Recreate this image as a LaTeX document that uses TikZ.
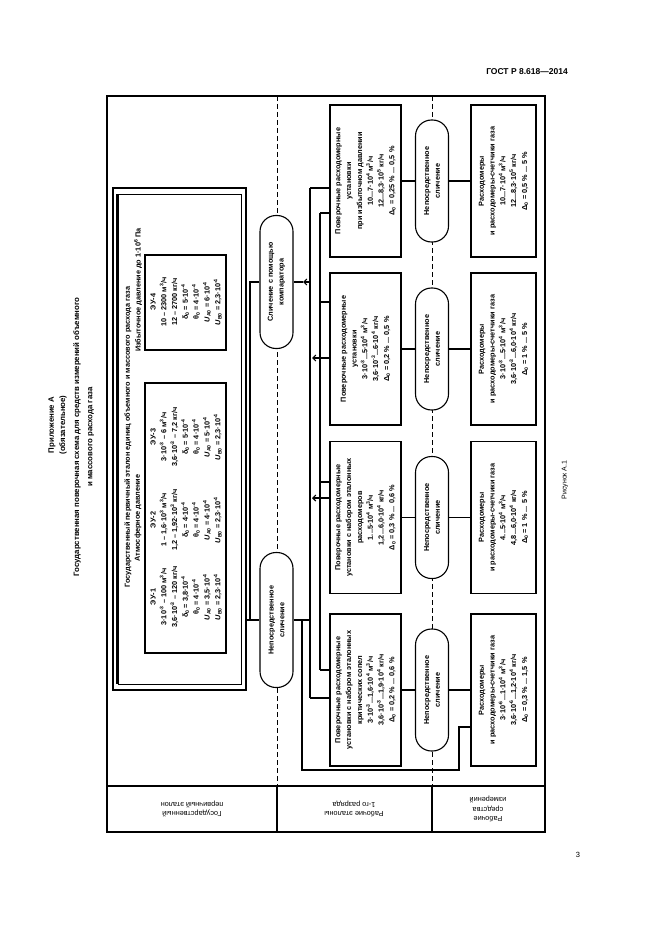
\documentclass[tikz,border=0pt]{standalone}
\usepackage{fontspec}
\setmainfont{Liberation Sans}
\usetikzlibrary{arrows.meta}
\begin{document}
\begin{tikzpicture}[x=1pt,y=-1pt,
  txt/.style={font=\fontsize{7.3}{10.8}\selectfont\bfseries,align=center,inner sep=0pt},
  rbox/.style={draw,line width=1.1pt,rotate=90,minimum width=152pt,minimum height=71pt,inner sep=0pt,txt},
  wbox/.style={draw,line width=1.1pt,rotate=90,minimum width=152pt,minimum height=65pt,inner sep=0pt,txt},
  oval/.style={draw,line width=1.1pt,fill=white,rounded corners=16pt,rotate=90,minimum height=33pt,txt},
  ttl/.style={rotate=90,font=\fontsize{7.8}{9}\selectfont\bfseries},
  ln/.style={line width=1.1pt},
  dsh/.style={line width=0.9pt,dash pattern=on 5pt off 3pt},
  tip/.style={line width=1.1pt,-{Straight Barb[length=3pt,width=6pt]}}]
\useasboundingbox (0,0) rectangle (661,936);
% header
\node[font=\fontsize{8.5}{10}\selectfont\bfseries] (hdr) at (527,72) {ГОСТ Р 8.618—2014};
\node[font=\fontsize{7.5}{9}\selectfont] (pg) at (578,855) {3};
\node[rotate=90,font=\fontsize{7}{8}\selectfont] (fig) at (565,480) {Рисунок А.1};
\node[ttl] (t1) at (52,425) {Приложение А};
\node[ttl] (t2) at (63,425) {(обязательное)};
\node[ttl] (t3) at (77,437) {Государственная поверочная схема для средств измерений объемного};
\node[ttl] (t4) at (91,437) {и массового расхода газа};
% frame
\draw[line width=1.3pt] (107,96) rectangle (545,832);
\draw[line width=1.3pt] (107,786) -- (545,786);
\draw[ln] (277,786) -- (277,832);
\draw[ln] (432,786) -- (432,832);
\draw[dsh] (277,96) -- (277,786);
\draw[dsh] (432,96) -- (432,786);
\node[rotate=180,txt,font=\fontsize{7.3}{9.5}\selectfont] (l1) at (192,809) {Государственный\\первичный эталон};
\node[rotate=180,txt,font=\fontsize{7.3}{9.5}\selectfont] (l2) at (354,809) {Рабочие эталоны\\1-го разряда};
\node[rotate=180,txt,font=\fontsize{7.3}{9.5}\selectfont] (l3) at (488,809) {Рабочие\\средства\\измерений};
% state primary standard
\draw[line width=1.2pt] (113,188) rectangle (246,690);
\draw[line width=0.9pt] (118,194) rectangle (241,684);
\draw[line width=2.2pt] (117,194) -- (117,684);
\node[rotate=90,txt] (st) at (128,437) {Государственный первичный эталон единиц объемного и массового расхода газа};
\node[rotate=90,txt] (atm) at (138,518) {Атмосферное давление};
\node[rotate=90,txt] (izb) at (138,290) {Избыточное давление до 1·10\textsuperscript{6} Па};
\draw[ln] (145,383) rectangle (226,653);
\draw[ln] (145,255) rectangle (226,350);
\node[rotate=90,txt] (e1) at (186,597) {ЭУ-1\\3·10\textsuperscript{-3} – 100 м\textsuperscript{3}/ч\\3,6·10\textsuperscript{-3} – 120 кг/ч\\δ\textsubscript{0} = 3,8·10\textsuperscript{-4}\\θ\textsubscript{0} = 4·10\textsuperscript{-4}\\\textit{U}\textsubscript{A0} = 3,5·10\textsuperscript{-4}\\\textit{U}\textsubscript{B0} = 2,3·10\textsuperscript{-4}};
\node[rotate=90,txt] (e2) at (186,520) {ЭУ-2\\1 – 1,6·10\textsuperscript{3} м\textsuperscript{3}/ч\\1,2 – 1,92·10\textsuperscript{3} кг/ч\\δ\textsubscript{0} = 4·10\textsuperscript{-4}\\θ\textsubscript{0} = 4·10\textsuperscript{-4}\\\textit{U}\textsubscript{A0} = 4·10\textsuperscript{-4}\\\textit{U}\textsubscript{B0} = 2,3·10\textsuperscript{-4}};
\node[rotate=90,txt] (e3) at (186,437) {ЭУ-3\\3·10\textsuperscript{-3} – 6 м\textsuperscript{3}/ч\\3,6·10\textsuperscript{-3} – 7,2 кг/ч\\δ\textsubscript{0} = 5·10\textsuperscript{-4}\\θ\textsubscript{0} = 4·10\textsuperscript{-4}\\\textit{U}\textsubscript{A0} = 5·10\textsuperscript{-4}\\\textit{U}\textsubscript{B0} = 2,3·10\textsuperscript{-4}};
\node[rotate=90,txt] (e4) at (186,302) {ЭУ-4\\10 – 2300 м\textsuperscript{3}/ч\\12 – 2700 кг/ч\\δ\textsubscript{0} = 5·10\textsuperscript{-4}\\θ\textsubscript{0} = 4·10\textsuperscript{-4}\\\textit{U}\textsubscript{A0} = 6·10\textsuperscript{-4}\\\textit{U}\textsubscript{B0} = 2,3·10\textsuperscript{-4}};
% right column boxes
\node[wbox] (r1) at (503.5,690) {Расходомеры\\и расходомеры-счетчики газа\\3·10\textsuperscript{-6}...1·10\textsuperscript{4} м\textsuperscript{3}/ч\\3,6·10\textsuperscript{-6}...1,2·10\textsuperscript{4} кг/ч\\Δ\textsubscript{0} = 0,3 \% ... 1,5 \%};
\node[wbox] (r2) at (503.5,517.5) {Расходомеры\\и расходомеры-счетчики газа\\4...5·10\textsuperscript{4} м\textsuperscript{3}/ч\\4,8...6,0·10\textsuperscript{4} кг/ч\\Δ\textsubscript{0} = 1 \% ... 5 \%};
\node[wbox] (r3) at (503.5,349) {Расходомеры\\и расходомеры-счетчики газа\\3·10\textsuperscript{-3}...5·10\textsuperscript{4} м\textsuperscript{3}/ч\\3,6·10\textsuperscript{-3}...6,0·10\textsuperscript{4} кг/ч\\Δ\textsubscript{0} = 1 \% ... 5 \%};
\node[wbox] (r4) at (503.5,181) {Расходомеры\\и расходомеры-счетчики газа\\10...7·10\textsuperscript{4} м\textsuperscript{3}/ч\\12...8,3·10\textsuperscript{5} кг/ч\\Δ\textsubscript{0} = 0,5 \% ... 5 \%};
% middle column boxes
\node[rbox] (b1) at (365.5,690) {Поверочные расходомерные\\установки с набором эталонных\\критических сопел\\3·10\textsuperscript{-3}...1,6·10\textsuperscript{4} м\textsuperscript{3}/ч\\3,6·10\textsuperscript{-3}...1,9·10\textsuperscript{4} кг/ч\\Δ\textsubscript{0} = 0,2 \% ... 0,6 \%};
\node[rbox] (b2) at (365.5,517.5) {Поверочные расходомерные\\установки с набором эталонных\\расходомеров\\1...5·10\textsuperscript{4} м\textsuperscript{3}/ч\\1,2...6,0·10\textsuperscript{4} кг/ч\\Δ\textsubscript{0} = 0,3 \% ... 0,6 \%};
\node[rbox] (b3) at (365.5,349) {Поверочные расходомерные\\установки\\3·10\textsuperscript{-3}...5·10\textsuperscript{4} м\textsuperscript{3}/ч\\3,6·10\textsuperscript{-3}...6·10\textsuperscript{4} кг/ч\\Δ\textsubscript{0} = 0,2 \% ... 0,5 \%};
\node[rbox] (b4) at (365.5,181) {Поверочные расходомерные\\установки\\при избыточном давлении\\10...7·10\textsuperscript{4} м\textsuperscript{3}/ч\\12...8,3·10\textsuperscript{5} кг/ч\\Δ\textsubscript{0} = 0,25 \% ... 0,5 \%};
% ovals column 3
\foreach \n/\y in {o1/690,o2/517.5,o3/349,o4/181}{
  \node[oval,minimum width=122pt] (\n) at (432,\y) {Непосредственное\\сличение};
}
\foreach \i in {1,2,3,4}{
  \draw[ln] (b\i.south) -- (o\i.north);
  \draw[ln] (o\i.south) -- (r\i.north);
}
% middle ovals
\node[oval,minimum width=135pt] (dir) at (276.5,620) {Непосредственное\\сличение};
\node[oval,minimum width=133pt] (cmp) at (276.5,282) {Сличение с помощью\\компаратора};
\draw[ln] (246,620) -- (dir.north);
\draw[ln] (250,620) -- (250,282) -- (cmp.north);
\draw[ln] (dir.south) -- (310,620);
\draw[ln] (302,620) -- (302,770) -- (459,770) -- (459,727) -- (r1.north |- 0,727);
\draw[ln] (310,188) -- (310,698);
\draw[ln] (320,213) -- (320,670);
\draw[ln] (310,188) -- (b4.north |- 0,188);
\draw[ln] (320,213) -- (b4.north |- 0,213);
\draw[ln] (320,302) -- (b3.north |- 0,302);
\draw[ln] (320,482) -- (b2.north |- 0,482);
\draw[ln] (310,698) -- (b1.north |- 0,698);
\draw[ln] (320,670) -- (b1.north |- 0,670);
\draw[tip] (b3.north |- 0,358) -- (312,358);
\draw[tip] (b2.north |- 0,498) -- (312,498);
\draw[tip] (310,282) -- (303,282);
\draw[ln] (303,282) -- (cmp.south);
\end{tikzpicture}
\end{document}
